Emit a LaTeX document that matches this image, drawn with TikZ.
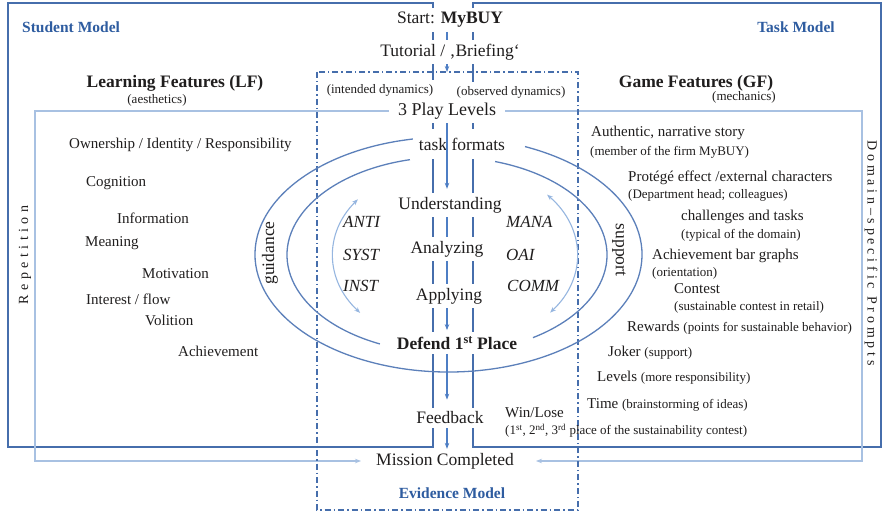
\documentclass[tikz,border=0pt]{standalone}
\usepackage{fontspec}
\setmainfont{Liberation Serif}
\newfontfamily\trackedA[LetterSpace=32]{Liberation Serif}
\newfontfamily\trackedB[LetterSpace=27]{Liberation Serif}
\usetikzlibrary{arrows.meta,backgrounds}

\newcommand{\pxsize}[1]{\fontsize{#1}{#1}\selectfont}

\definecolor{framedark}{RGB}{70,110,172}
\definecolor{framelight}{RGB}{168,193,226}
\definecolor{ringblue}{RGB}{92,128,186}
\definecolor{cuelight}{RGB}{150,182,224}
\definecolor{flowblue}{RGB}{78,126,196}
\definecolor{modelblue}{RGB}{46,92,160}
\definecolor{inkdark}{RGB}{32,30,30}

\tikzset{
  every node/.style={text=inkdark, inner sep=0pt},
  body/.style={font=\pxsize{15}, anchor=west},
  note/.style={font=\pxsize{13}, anchor=west},
  stage/.style={font=\pxsize{17.5}, fill=white, inner xsep=3pt, inner ysep=4pt},
  heading/.style={font=\bfseries\pxsize{17.5}},
  subhead/.style={font=\pxsize{13}},
  model/.style={font=\bfseries\pxsize{15.5}, text=modelblue},
  codeword/.style={font=\itshape\pxsize{17}, anchor=west},
  arclabel/.style={font=\pxsize{17.5}},
  arrowend/.style={-{Stealth[length=6pt,width=4.5pt]}},
  darkframe/.style={draw=framedark, line width=2.2pt},
  lightframe/.style={draw=framelight, line width=1.3pt},
  ringline/.style={draw=ringblue, line width=1.3pt},
  cueline/.style={draw=cuelight, line width=1.1pt, {Stealth[length=6pt,width=4.5pt]}-{Stealth[length=6pt,width=4.5pt]}},
  flowline/.style={draw=flowblue, line width=1.4pt},
  evline/.style={draw=framedark, line width=1.8pt, dash pattern=on 6pt off 3pt on 1.5pt off 3pt},
}

\begin{document}
\begin{tikzpicture}[x=1pt,y=-1pt]
\useasboundingbox (0,0) rectangle (889,513);

% reference points
\coordinate (axis) at (447,0);
\coordinate (evtop) at (447,72);
\coordinate (lbl) at (35,461);
\coordinate (lbr) at (862,461);
\coordinate (oc) at (448.5,254.5);
\coordinate (ic) at (447,255);
\coordinate (cc) at (455,255);

% model titles
\node[model, anchor=west] (stm) at (22,27) {Student Model};
\node[model] (tkm) at (796,27) {Task Model};
\node[model] (evm) at (452,493) {Evidence Model};

% feature headings
\node[heading] (lf) at (175,83) {Learning Features (LF)};
\node[subhead] (lfs) at (157,100) {(aesthetics)};
\node[heading] (gf) at (696,83) {Game Features (GF)};
\node[subhead] (gfs) at (744,97) {(mechanics)};

% game flow stations
\node[stage] (start) at (450,20) {Start: \textbf{MyBUY}};
\node[stage] (tut) at (450,52) {Tutorial / ‚Briefing‘};
\node[stage, font=\pxsize{13}] (intd) at (380,90) {(intended dynamics)};
\node[stage, font=\pxsize{13}] (obsd) at (511,92) {(observed dynamics)};
\node[stage, font=\pxsize{18}] (play) at (447,111) {3 Play Levels};
\node[stage, inner ysep=9pt] (task) at (462,144) {task formats};
\node[stage] (und) at (450,205) {Understanding};
\node[stage] (ana) at (447,249) {Analyzing};
\node[stage] (app) at (449,296) {Applying};
\node[stage, font=\bfseries\pxsize{17.5}] (def) at (457,343) {Defend 1\textsuperscript{st} Place};
\node[stage] (feed) at (450,418) {Feedback};
\node[stage] (mis) at (445,461) {Mission Completed};

% competence codes
\node[codeword] (anti) at (343,222) {ANTI};
\node[codeword] (syst) at (343,255) {SYST};
\node[codeword] (inst) at (343,286) {INST};
\node[codeword] (mana) at (506,222) {MANA};
\node[codeword] (oai) at (506,255) {OAI};
\node[codeword] (comm) at (507,286) {COMM};

% ring labels and side labels
\node[arclabel, rotate=90] (guid) at (270,253) {guidance};
\node[arclabel, rotate=-90] (supp) at (619,250) {support};
\node[font=\trackedA\pxsize{14}, rotate=90] (rep) at (25,255) {Repetition};
\node[font=\trackedB\pxsize{14}, rotate=-90] (dsp) at (871,253) {Domain–specific Prompts};

% learning features
\node[body] (lf1) at (69,145) {Ownership / Identity / Responsibility};
\node[body] (lf2) at (86,183) {Cognition};
\node[body] (lf3) at (117,218) {Information};
\node[body] (lf4) at (85,243) {Meaning};
\node[body] (lf5) at (142,274) {Motivation};
\node[body] (lf6) at (86,299) {Interest / flow};
\node[body] (lf7) at (145,320) {Volition};
\node[body] (lf8) at (178,351) {Achievement};

% game features
\node[body] (gf1) at (591,133) {Authentic, narrative story};
\node[note] (gf1n) at (590,152) {(member of the firm MyBUY)};
\node[body] (gf2) at (628,178) {Protégé effect /external characters};
\node[note] (gf2n) at (628,195) {(Department head; colleagues)};
\node[body] (gf3) at (681,217) {challenges and tasks};
\node[note] (gf3n) at (681,235) {(typical of the domain)};
\node[body] (gf4) at (652,256) {Achievement bar graphs};
\node[note] (gf4n) at (652,273) {(orientation)};
\node[body] (gf5) at (674,289) {Contest};
\node[note] (gf5n) at (674,307) {(sustainable contest in retail)};
\node[body] (gf6) at (627,328) {Rewards {\pxsize{13}(points for sustainable behavior)}};
\node[body] (gf7) at (608,353) {Joker {\pxsize{13}(support)}};
\node[body] (gf8) at (597,378) {Levels {\pxsize{13}(more responsibility)}};
\node[body] (gf9) at (587,405) {Time {\pxsize{13}(brainstorming of ideas)}};
\node[body] (gf10) at (505,413) {Win/Lose};
\node[note] (gf10n) at (505,431) {(1\textsuperscript{st}, 2\textsuperscript{nd}, 3\textsuperscript{rd} place of the sustainability contest)};

% flow through the stations
\draw[flowline] (start.south -| axis) -- (tut.north -| axis);
\draw[flowline, arrowend] (tut.south -| axis) -- (evtop);
\draw[flowline, arrowend, shorten >=4pt] (play.south -| axis) -- (und.north -| axis);
\draw[flowline] (und.south -| axis) -- (ana.north -| axis);
\draw[flowline] (ana.south -| axis) -- (app.north -| axis);
\draw[flowline, arrowend, shorten >=2pt] (app.south -| axis) -- (def.north -| axis);
\draw[flowline, arrowend, shorten >=8pt] (def.south -| axis) -- (feed.north -| axis);
\draw[flowline, arrowend] (feed.south -| axis) -- (mis.north -| axis);

\begin{pgfonlayer}{background}
  \fill[white] (0,0) rectangle (889,513);

  % student and task model frames
  \draw[darkframe] (8,3) rectangle (433,447);
  \draw[darkframe] (473,3) rectangle (881,447);

  % repetition / prompt loops into the mission end
  \draw[lightframe, arrowend, shorten <=6pt, shorten >=12pt]
    (play.west) -| (lbl) -- (lbl -| mis.west);
  \draw[lightframe, arrowend, shorten <=6pt, shorten >=19pt]
    (play.east) -| (lbr) -- (lbr -| mis.east);

  % evidence model
  \draw[evline] (317,72) rectangle (578,510);

  % guidance / support rings
  \draw[ringline] (oc) ++(293.3:193.5 and 117.5)
    arc[start angle=293.3, end angle=619.4, x radius=193.5, y radius=117.5];
  \draw[ringline] (ic) ++(287.5:160 and 98)
    arc[start angle=287.5, end angle=417.5, x radius=160, y radius=98];
  \draw[ringline] (ic) ++(114.8:160 and 98)
    arc[start angle=114.8, end angle=256.6, x radius=160, y radius=98];

  % competence cycles
  \draw[cueline] (cc) ++(141:122 and 92)
    arc[start angle=141, end angle=217.3, x radius=122, y radius=92];
  \draw[cueline] (cc) ++(319:122 and 92)
    arc[start angle=319, end angle=398.8, x radius=122, y radius=92];
\end{pgfonlayer}
\end{tikzpicture}
\end{document}
